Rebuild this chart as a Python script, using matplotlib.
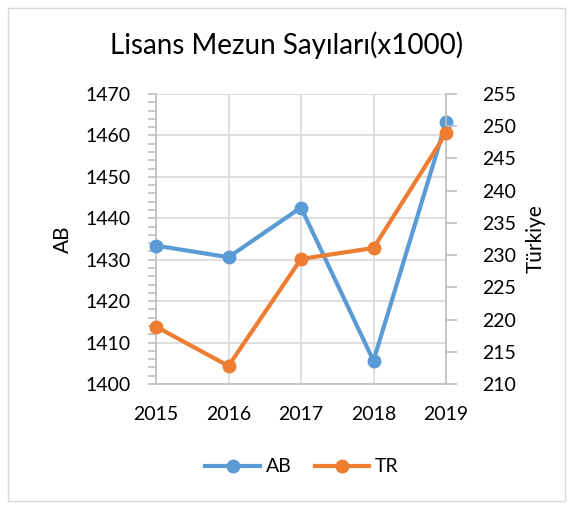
import numpy as np
import matplotlib
matplotlib.use("Agg")
import matplotlib.pyplot as plt
from matplotlib.ticker import MultipleLocator
from matplotlib.patches import Rectangle

years = ['2015', '2016', '2017', '2018', '2019']
ab = [1433.4, 1430.6, 1442.6, 1405.6, 1463.2]
tr = [218.9, 212.8, 229.4, 231.1, 248.9]

BLUE = '#5B9BD5'
ORANGE = '#ED7D31'
GRID = '#D9D9D9'
AXC = '#BFBFBF'

plt.rcParams['font.family'] = ['Lato', 'DejaVu Sans']

W, H = 573, 509
fig = plt.figure(figsize=(W/100, H/100), dpi=100)
fig.patches.append(Rectangle((8/W, 8/H), 557/W, 493/H, transform=fig.transFigure,
                             fill=False, edgecolor='#D9D9D9', lw=1))

# plot area in pixels: x 156..446, y 94..384
ax = fig.add_axes([156/W, 1-384/H, 290/W, 290/H])
x = np.arange(len(years))
l1, = ax.plot(x, ab, color=BLUE, lw=3, marker='o', ms=9, label='AB', zorder=3, clip_on=False)
ax.set_ylim(1400, 1470)
ax.yaxis.set_major_locator(MultipleLocator(10))
ax.yaxis.set_minor_locator(MultipleLocator(2))
ax.set_xlim(0, 4)
ax.set_xticks(x)
ax.set_xticklabels(years)
ax.grid(True, which='major', color=GRID, lw=1.2)
ax.set_axisbelow(True)
for s in ['top', 'right']:
    ax.spines[s].set_visible(False)
for s in ['left', 'bottom']:
    ax.spines[s].set_color(AXC)
    ax.spines[s].set_linewidth(1.2)
ax.tick_params(axis='y', which='both', color=AXC, length=6, width=1.2, labelsize=14, pad=12)
ax.tick_params(axis='x', length=0, labelsize=14, pad=16)
ax.set_ylabel('AB', fontsize=15, labelpad=9)

ax2 = ax.twinx()
l2, = ax2.plot(x, tr, color=ORANGE, lw=3, marker='o', ms=9, label='TR', zorder=3, clip_on=False)
ax2.set_ylim(210, 255)
ax2.yaxis.set_major_locator(MultipleLocator(5))
for s in ['top', 'left', 'bottom']:
    ax2.spines[s].set_visible(False)
ax2.spines['right'].set_color(AXC)
ax2.spines['right'].set_linewidth(1.2)
ax2.tick_params(axis='y', color=AXC, length=8, width=1.2, labelsize=14, pad=18)
ax2.set_ylabel('Türkiye', fontsize=15, labelpad=7)

fig.text(0.5, 1-45/H, 'Lisans Mezun Sayıları(x1000)', ha='center', va='center', fontsize=20)
fig.legend(handles=[l1, l2], loc='center', bbox_to_anchor=(302/W, 1-467/H), ncol=2,
           frameon=False, fontsize=14, handlelength=2.8, columnspacing=1.2, handletextpad=0.3)

fig.savefig('out.png', dpi=100)
